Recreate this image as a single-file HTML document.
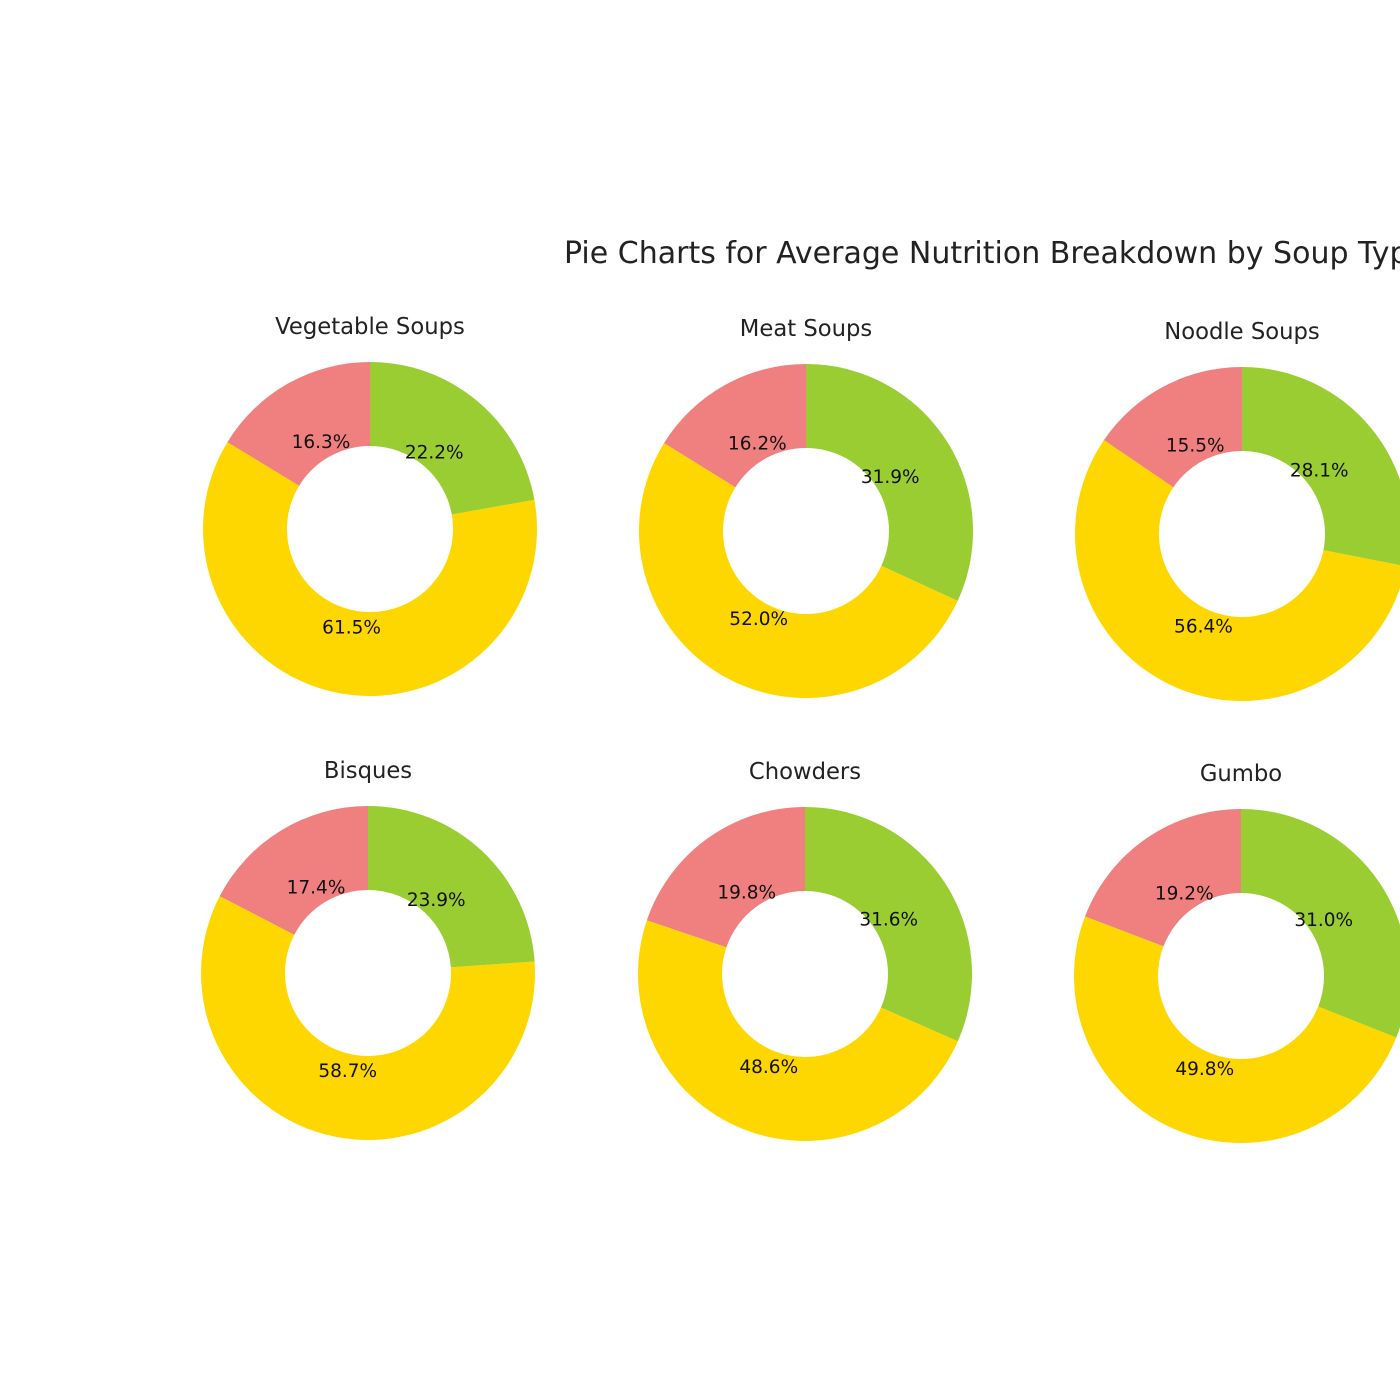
<!DOCTYPE html>
<html><head><meta charset="utf-8"><style>
html,body{margin:0;padding:0;background:#fff;width:1400px;height:1400px;overflow:hidden}
svg{display:block}
text{font-family:"DejaVu Sans","Liberation Sans",sans-serif}
</style></head><body>
<svg id="chart" width="1400" height="1400" viewBox="0 0 1400 1400" xmlns="http://www.w3.org/2000/svg">
<rect width="1400" height="1400" fill="#fff"/>
<text x="564" y="263" font-size="30" fill="#222">Pie Charts for Average Nutrition Breakdown by Soup Type</text>
</svg>
<script>
const soups = ["Vegetable Soups","Meat Soups","Noodle Soups","Bisques","Chowders","Gumbo"];
const redValues = [16.3,16.2,15.5,17.4,19.8,19.2];
const yellowValues = [61.5,52.0,56.4,58.7,48.6,49.8];
const greenValues = [22.2,31.9,28.1,23.9,31.6,31.0];
const sliceColors = ["#F08080","#FFD700","#9ACD32"];
const sliceNames = ["red","yellow","green"];

const svg = document.getElementById('chart');
const NS = 'http://www.w3.org/2000/svg';
const centers = [[370,529],[806,531],[1242,534],[368,973],[805,974],[1241,976]];
const R = 167, r = 83, pctR = 100;
function pt(cx,cy,rad,deg){const a=deg*Math.PI/180;return [cx+rad*Math.cos(a), cy-rad*Math.sin(a)];}
soups.forEach((name,i)=>{
  const [cx,cy]=centers[i];
  const g=document.createElementNS(NS,'g');
  
  
  svg.appendChild(g);
  const t=document.createElementNS(NS,'text');
  
  
  t.setAttribute('x',cx);t.setAttribute('y',cy-195);t.setAttribute('text-anchor','middle');
  t.setAttribute('font-size','22.7');t.setAttribute('fill','#222');t.textContent=name;g.appendChild(t);
  const vals=[redValues[i],yellowValues[i],greenValues[i]];
  const tot=vals.reduce((a,b)=>a+b,0);
  let start=90;
  vals.forEach((v,k)=>{
    const sweep=v/tot*360, end=start+sweep;
    const [x1,y1]=pt(cx,cy,R,start),[x2,y2]=pt(cx,cy,R,end);
    const [x3,y3]=pt(cx,cy,r,end),[x4,y4]=pt(cx,cy,r,start);
    const large=sweep>180?1:0;
    const p=document.createElementNS(NS,'path');
    
    
    p.setAttribute('d',`M${x1},${y1} A${R},${R} 0 ${large} 0 ${x2},${y2} L${x3},${y3} A${r},${r} 0 ${large} 1 ${x4},${y4} Z`);
    p.setAttribute('fill',sliceColors[k]);g.appendChild(p);
    const [lx,ly]=pt(cx,cy,pctR,start+sweep/2);
    const l=document.createElementNS(NS,'text');
    
    
    l.setAttribute('x',lx);l.setAttribute('y',ly+6);l.setAttribute('text-anchor','middle');
    l.setAttribute('font-size','18.5');l.setAttribute('fill','#111');l.textContent=v.toFixed(1)+'%';
    g.appendChild(l);
    start=end;
  });
});
</script>
</body></html>
